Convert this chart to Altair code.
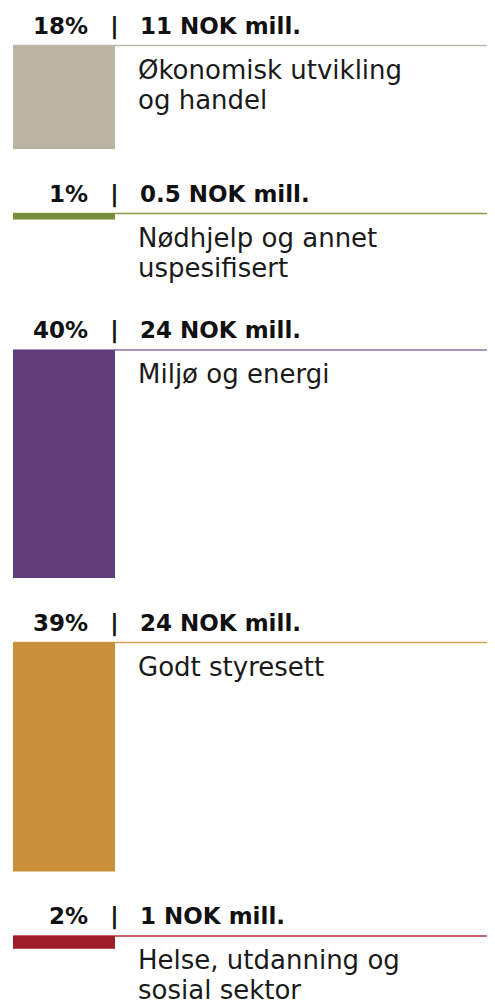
import altair as alt
import pandas as pd

# ---- data ----
categories = [
    "Økonomisk utvikling\nog handel",
    "Nødhjelp og annet\nuspesifisert",
    "Miljø og energi",
    "Godt styresett",
    "Helse, utdanning og\nsosial sektor",
]
percent_labels = ["18%", "1%", "40%", "39%", "2%"]
amount_labels = ["11 NOK mill.", "0.5 NOK mill.", "24 NOK mill.", "24 NOK mill.", "1 NOK mill."]
# bar heights (NOK mill.)
amounts = [10.9, 0.63, 24.0, 24.1, 1.33]

box_colors = ["#BAB5A3", "#7B8B3C", "#613D78", "#C89038", "#9E1F27"]
line_colors = ["#BDB9A8", "#8A994C", "#8E6FA6", "#D7A452", "#B3343C"]

# ---- layout (pixels) ----
W, H = 479, 1000
PX_PER_MILL = 9.5
FIRST_TOP = 37.5
GAP = 64.5
MIN_BLOCK = 72

tops, bottoms = [], []
t = FIRST_TOP
for a in amounts:
    h = a * PX_PER_MILL
    tops.append(t)
    bottoms.append(t + h)
    t = t + max(h, MIN_BLOCK) + GAP

df = pd.DataFrame({
    "category": categories,
    "pct": percent_labels,
    "amount_label": amount_labels,
    "top": tops,
    "bottom": bottoms,
})
df["header_y"] = df["top"] - 12
df["label_y"] = df["top"] + 33

yscale = alt.Scale(domain=[0, H], reverse=True, nice=False, zero=False)
cat_dom = categories

base = alt.Chart(df)

rules = base.mark_rule(strokeWidth=1.6).encode(
    x=alt.value(5), x2=alt.value(W),
    y=alt.Y("top:Q", scale=yscale, axis=None),
    stroke=alt.Stroke("category:N", scale=alt.Scale(domain=cat_dom, range=line_colors), legend=None),
)

boxes = base.mark_rect().encode(
    x=alt.value(5), x2=alt.value(107),
    y=alt.Y("top:Q", scale=yscale, axis=None),
    y2="bottom:Q",
    fill=alt.Fill("category:N", scale=alt.Scale(domain=cat_dom, range=box_colors), legend=None),
)

font = "DejaVu Sans"
HDR = 23
pct_text = base.mark_text(align="right", baseline="alphabetic", font=font, fontSize=HDR,
                          fontWeight="bold", color="#111111").encode(
    x=alt.value(80), y=alt.Y("header_y:Q", scale=yscale, axis=None), text="pct:N")

pipe_text = base.mark_text(align="center", baseline="alphabetic", font=font, fontSize=HDR,
                           fontWeight="bold", color="#111111", text="|").encode(
    x=alt.value(106.5), y=alt.Y("header_y:Q", scale=yscale, axis=None))

amt_text = base.mark_text(align="left", baseline="alphabetic", font=font, fontSize=HDR,
                          fontWeight="bold", color="#111111").encode(
    x=alt.value(132), y=alt.Y("header_y:Q", scale=yscale, axis=None), text="amount_label:N")

label_text = base.mark_text(align="left", baseline="alphabetic", font=font, fontSize=26,
                            color="#1a1a1a", lineBreak="\n", lineHeight=30).encode(
    x=alt.value(130), y=alt.Y("label_y:Q", scale=yscale, axis=None), text="category:N")

chart = alt.layer(rules, boxes, pct_text, pipe_text, amt_text, label_text).properties(
    width=W, height=H, padding=0, autosize=alt.AutoSizeParams(type="none")
).configure(background="white").configure_view(stroke=None)

chart.save("out.html", embed_options={"renderer": "svg", "actions": False})
